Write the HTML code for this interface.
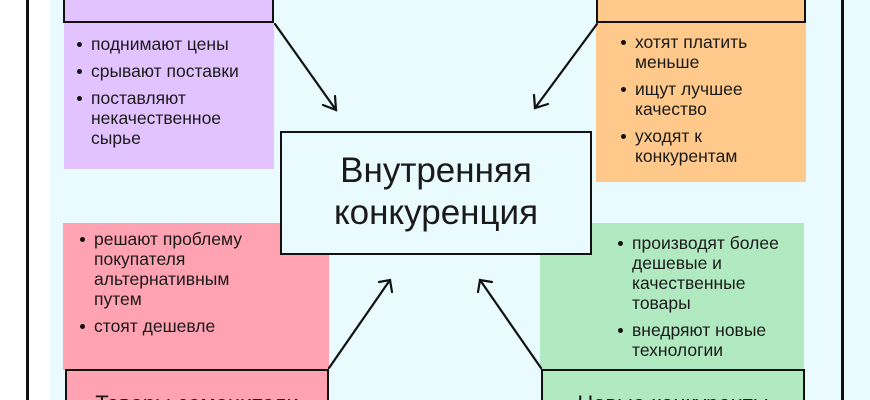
<!DOCTYPE html>
<html><head><meta charset="utf-8"><style>
*{margin:0;padding:0;box-sizing:border-box}
html,body{width:870px;height:400px;overflow:hidden}
body{position:relative;background:#fff;font-family:"Liberation Sans","DejaVu Sans",sans-serif;color:#1a1a1a}
.a{position:absolute}
.cy{left:50px;top:0;width:820px;height:400px;background:#e9fbff}
.vl{top:0;width:3px;height:400px;background:#111}
.body{position:absolute}
ul{list-style:none;font-size:17.5px;line-height:20px;white-space:nowrap}
li{position:relative;padding-left:27px;margin-bottom:7px}
li:before{content:"";position:absolute;left:13px;top:8px;width:5px;height:5px;border-radius:50%;background:#111}
.hd{position:absolute;border:2px solid #111;font-size:22px;text-align:center;white-space:nowrap;overflow:hidden}
.bt{border-bottom:none;height:31px}
.tp{border-top:none;top:0;height:23px;line-height:22px}
</style></head><body>
<div class="a cy"></div>
<div class="a vl" style="left:26px"></div>
<div class="a vl" style="left:841px"></div>

<div class="body" style="left:64px;top:23px;width:210px;height:146px;background:#e3c3ff">
<ul style="margin-top:11px"><li>поднимают цены</li><li>срывают поставки</li><li>поставляют<br>некачественное<br>сырье</li></ul></div>
<div class="hd tp" style="left:63px;width:211px;background:#e3c3ff"><div style="margin-top:-26px">Поставщики</div></div>

<div class="body" style="left:596px;top:23px;width:210px;height:159px;background:#fec98b">
<ul style="margin-top:9px;margin-left:12px"><li>хотят платить<br>меньше</li><li>ищут лучшее<br>качество</li><li>уходят к<br>конкурентам</li></ul></div>
<div class="hd tp" style="left:596px;width:210px;background:#fec98b"><div style="margin-top:-26px">Покупатели</div></div>

<div class="body" style="left:63px;top:223px;width:266px;height:147px;background:#ffa2b1">
<ul style="margin-top:6px;margin-left:4px"><li>решают проблему<br>покупателя<br>альтернативным<br>путем</li><li>стоят дешевле</li></ul></div>
<div class="hd bt" style="left:65px;top:369px;width:264px;background:#ffa2b1;padding-top:20px">Товары-заменители</div>

<div class="body" style="left:540px;top:223px;width:264px;height:147px;background:#b1eac1">
<ul style="margin-top:10px;margin-left:65px"><li>производят более<br>дешевые и<br>качественные<br>товары</li><li>внедряют новые<br>технологии</li></ul></div>
<div class="hd bt" style="left:541px;top:369px;width:264px;background:#b1eac1;padding-top:20px">Новые конкуренты</div>

<div class="a" style="left:280px;top:131px;width:312px;height:124px;border:2px solid #111;background:#e9fbff;font-size:35px;line-height:42px;text-align:center;padding-top:17px;z-index:2">Внутренняя<br>конкуренция</div>

<svg class="a" style="left:0;top:0;z-index:3" width="870" height="400">
<g stroke="#111" stroke-width="2.2" fill="none" stroke-linecap="round">
<line x1="275" y1="24" x2="336" y2="110"/><polyline points="323,105 336,110 335,96"/>
<line x1="597" y1="24" x2="535" y2="108"/><polyline points="534,95 535,108 548,104"/>
<line x1="329" y1="368" x2="390" y2="280"/><polyline points="379,282 390,280 392,292"/>
<line x1="541" y1="368" x2="480" y2="280"/><polyline points="478,292 480,280 492,282"/>
</g></svg>
</body></html>
